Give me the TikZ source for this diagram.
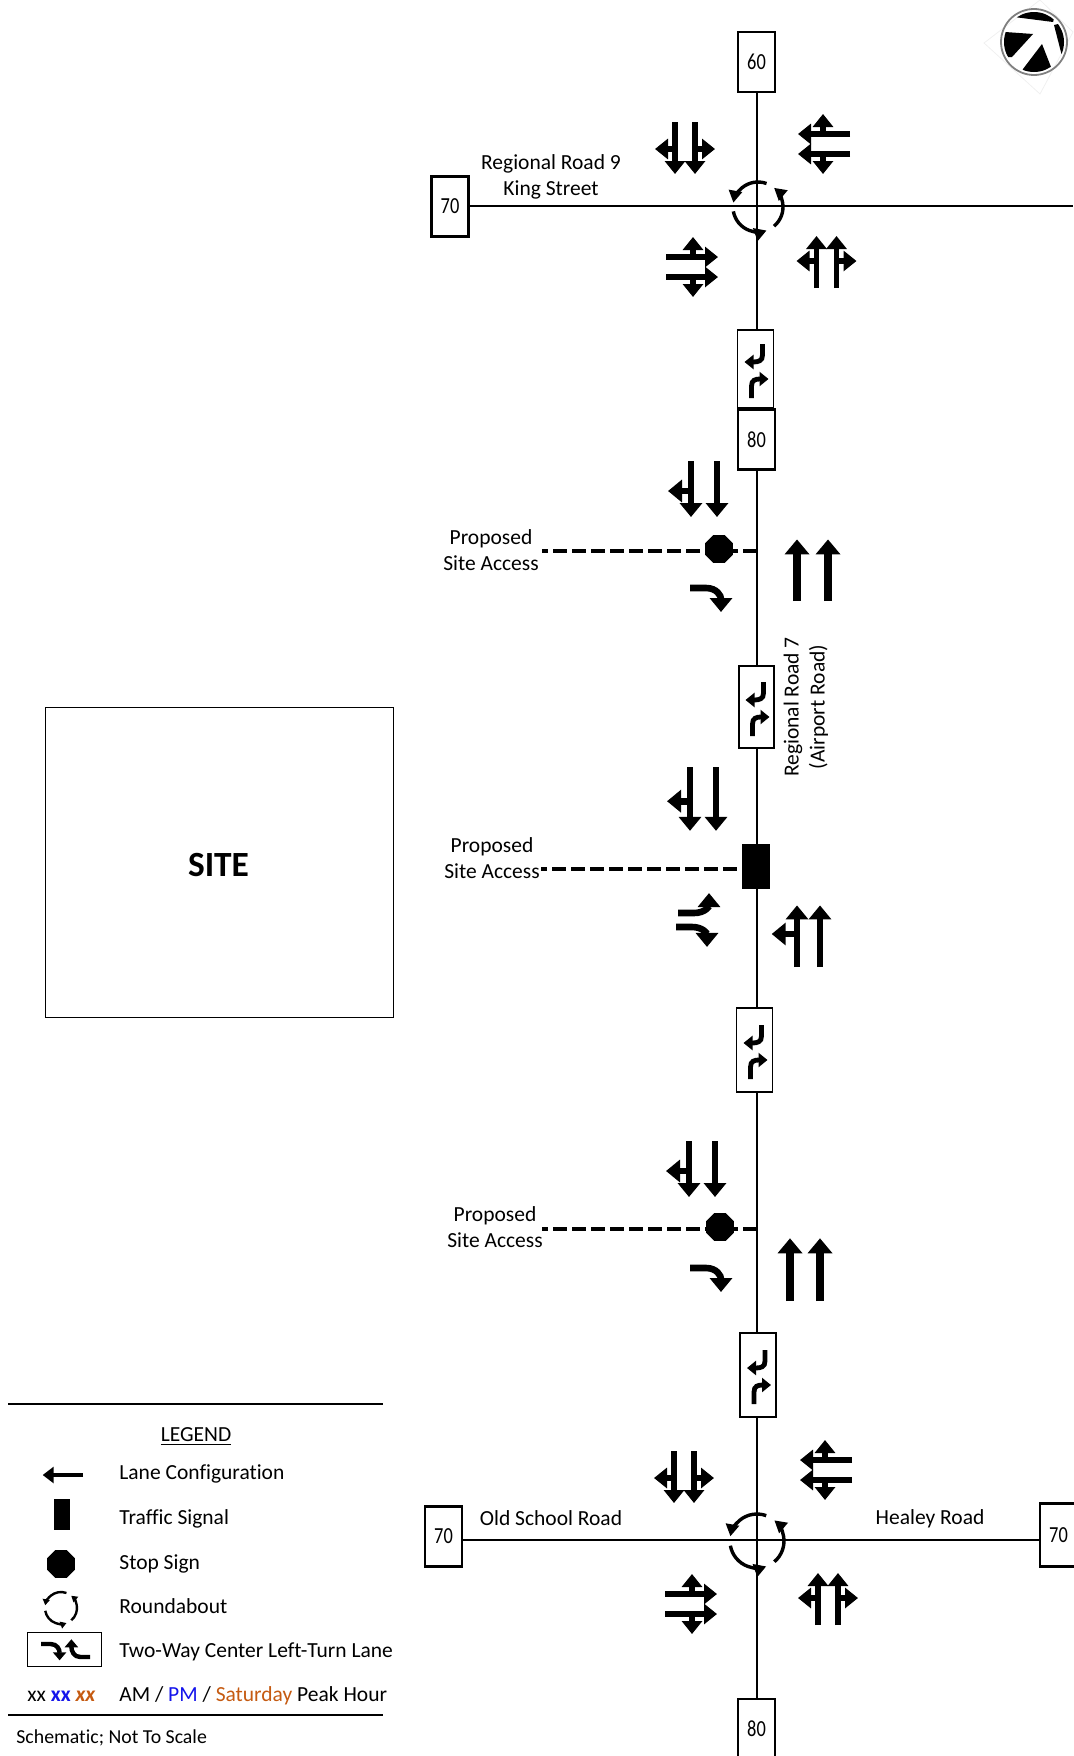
\documentclass[tikz,border=0pt]{standalone}
\usepackage{fontspec}
\setmainfont{Carlito}[Ligatures=CommonOff]
\usepackage{xcolor}
\usetikzlibrary{arrows.meta,shapes.geometric,backgrounds}
\definecolor{pmblue}{RGB}{20,20,235}
\definecolor{satorange}{RGB}{197,90,17}
\newcommand{\boxnum}[1]{\scalebox{.8}[1]{#1}}

\begin{document}
\begin{tikzpicture}[x=0.5pt,y=-0.5pt,font=\fontsize{10.75}{13}\selectfont,>={Triangle[length=6.5pt,width=10pt]}]
  \tikzstyle{road}=[line width=1pt]
  \tikzstyle{accessline}=[line width=2pt,dash pattern=on 7pt off 2.5pt,dash phase=4pt]
  \tikzstyle{numbox}=[draw,line width=1.1pt,fill=white,minimum width=18.5pt,minimum height=30pt,inner sep=0pt,font=\fontsize{11.5}{13}\selectfont]
  \tikzstyle{twbox}=[draw,line width=.75pt,fill=white,minimum width=18pt,minimum height=41pt,inner sep=0pt]
  \tikzstyle{stopsign}=[regular polygon,regular polygon sides=8,fill=black,minimum size=15pt,inner sep=0pt]
  \tikzstyle{signal}=[fill=black,minimum width=14pt,minimum height=22.5pt,inner sep=0pt]
  \tikzstyle{lbl}=[inner sep=0pt,align=center]
  \tikzstyle{item}=[inner sep=0pt,anchor=west]
  \tikzstyle{lane}=[->]
  \tikzstyle{stdhead}=[line width=2.9pt]
  \tikzstyle{bighead}=[line width=3.6pt,>={Triangle[length=7.5pt,width=12pt]}]
  \tikzstyle{midhead}=[line width=3.3pt,>={Triangle[length=7pt,width=11pt]}]
  \tikzstyle{twhead}=[line width=2.4pt,>={Triangle[length=4.5pt,width=7pt]}]
  \tikzstyle{ringhead}=[line width=1.7pt,>={Triangle[length=6pt,width=6.5pt]}]
  \tikzset{
    thru/.pic={\draw[lane] (0,0) -- (0,-56);},
    thruright/.pic={\draw[lane] (0,0) -- (0,-56); \draw[lane] (0,-30) -- (23,-30);},
    dualway/.pic={
      \draw[lane] (-10,27) -- (-10,-25); \draw[lane] (10,27) -- (10,-25);
      \draw[lane] (-10,0) -- (-30,0); \draw[lane] (10,0) -- (30,0);},
    turnright/.pic={\draw[lane] (0,0) -- (16,0) .. controls (27,0) and (31,8) .. (31,24);},
    twglyph/.pic={
      \draw[lane] (7,-25) -- (7,-14) .. controls (7,-8) and (3,-7) .. (-11,-7);
      \draw[lane] (-4,29) -- (-4,17) .. controls (-4,11) and (0,10) .. (13,10);},
    ringabout/.pic={
      \foreach \a in {70,190,310}
        \draw[lane] (-\a:25) arc[start angle=-\a,delta angle=-100,radius=25];}
  }
  \useasboundingbox (0,0) rectangle (1073,1756);
  % Road boxes
  \node[numbox] (b60) at (756.5,62) {\boxnum{60}};
  \node[twbox,minimum height=39pt] (tw1) at (755.5,369) {};
  \node[numbox] (b80n) at (756.5,439.5) {\boxnum{80}};
  \node[twbox,minimum width=17.5pt] (tw2) at (756.5,707) {};
  \node[twbox,minimum height=42pt] (tw3) at (754.5,1050) {};
  \node[twbox,minimum height=42pt] (tw4) at (758,1375) {};
  \node[numbox] (b80s) at (756.5,1729) {\boxnum{80}};
  \node[numbox] (b70w) at (450,206.5) {\boxnum{70}};
  \node[numbox,line width=1.3pt] (b70s) at (443.5,1536.5) {\boxnum{70}};
  \node[numbox,minimum height=31.5pt] (b70e) at (1058.5,1535) {\boxnum{70}};
  \coordinate (ring1) at (756.5,206);
  \coordinate (ring2) at (756.5,1540);
  \coordinate (east1) at (1073,206);
  \node[stopsign] (stop1) at (719,549) {};
  \node[signal] (sig2) at (756,866.5) {};
  \node[stopsign] (stop3) at (720,1227) {};
  \coordinate (acc1w) at (542,551);
  \coordinate (acc1e) at (758,551);
  \coordinate (acc2w) at (541,869);
  \coordinate (acc3w) at (542,1229);
  \coordinate (acc3e) at (758,1229);
  \begin{pgfonlayer}{background}
    \draw[road] (b60) -- (b80s);
    \draw[road] (b70w |- ring1) -- (east1);
    \draw[road] (b70s |- ring2) -- (b70e |- ring2);
    \draw[accessline] (acc1w) -- (acc1e);
    \draw[accessline] (acc2w) -- (sig2.west |- acc2w);
    \draw[accessline] (acc3w) -- (acc3e);
  \end{pgfonlayer}
  % Left-turn lane glyphs
  \pic[twhead] at (tw1) {twglyph};
  \pic[twhead] at (tw2) {twglyph};
  \pic[twhead] at (tw3) {twglyph};
  \pic[twhead] at (tw4) {twglyph};
  % Regional Road 9 intersection
  \pic[ringhead] at (758,207) {ringabout};
  \pic[rotate=180,stdhead] at (685,149) {dualway};
  \pic[rotate=90,stdhead] at (823,144) {dualway};
  \pic[stdhead] at (826.5,261) {dualway};
  \pic[rotate=-90,stdhead] at (693,267) {dualway};
  % First access
  \pic[rotate=180,midhead] at (691,461) {thruright};
  \pic[rotate=180,midhead] at (717,461) {thru};
  \pic[yscale=1.1,bighead] at (797,601) {thru};
  \pic[yscale=1.1,bighead] at (828,601) {thru};
  \pic[midhead] at (690,588) {turnright};
  % Second access
  \pic[rotate=180,yscale=1.14,midhead] at (690,767) {thruright};
  \pic[rotate=180,yscale=1.14,midhead] at (716,767) {thru};
  \pic[xscale=-1.1,yscale=1.1,midhead] at (797,967) {thruright};
  \pic[yscale=1.1,midhead] at (820,967) {thru};
  \pic[yscale=-.83,midhead] at (678,913) {turnright};
  \pic[yscale=.83,midhead] at (676,927) {turnright};
  % Third access
  \pic[rotate=180,midhead] at (689,1141) {thruright};
  \pic[rotate=180,midhead] at (715,1141) {thru};
  \pic[yscale=1.12,bighead] at (790,1301) {thru};
  \pic[yscale=1.12,bighead] at (820,1301) {thru};
  \pic[midhead] at (690,1268) {turnright};
  % Old School Road intersection
  \pic[scale=1.08,ringhead] at (757,1541) {ringabout};
  \pic[rotate=180,stdhead] at (684,1478) {dualway};
  \pic[rotate=90,stdhead] at (825,1470) {dualway};
  \pic[stdhead] at (828,1598) {dualway};
  \pic[rotate=-90,stdhead] at (692,1604) {dualway};
  % Road names
  \node[lbl] (rr9) at (551,176.5) {Regional Road 9\\King Street};
  \node[lbl] (osr) at (551,1518) {Old School Road};
  \node[lbl] (hlr) at (930,1519) {Healey Road};
  \node[lbl,rotate=90] (rr7) at (806,707) {Regional Road 7\\(Airport Road)};
  \node[lbl] (pa1) at (491,550) {Proposed\\Site Access};
  \node[lbl] (pa2) at (492,858) {Proposed\\Site Access};
  \node[lbl] (pa3) at (495,1227) {Proposed\\Site Access};
  % Site
  \node[draw,line width=.5pt,minimum width=174pt,minimum height=155pt,inner sep=0pt] (site) at (219,862) {};
  \node[lbl,font=\fontsize{17.7}{20}\selectfont\bfseries] (sitetxt) at (218.5,865) {SITE};
  % North arrow
  \coordinate (north) at (1034,42);
  \draw[black!6,line width=.4pt] (984,43) -- (1040,0) -- (1073,32) -- (1040,94) -- cycle;
  \begin{scope}
    \clip (north) circle[radius=30];
    \fill (1014,17) -- (1053,22) -- (1060,0) -- (1010,0) -- cycle;
    \fill (1054,25) -- (1063,60) -- (1075,60) -- (1075,20) -- cycle;
    \fill (1005,32) -- (1033,34) -- (1012,57) -- (995,57) -- (995,32) -- cycle;
    \fill (1042,44) -- (1051,67) -- (1055,80) -- (1020,80) -- (1023,69) -- cycle;
  \end{scope}
  \draw[black!50,line width=.9pt] (north) circle[radius=33];
  % Legend
  \coordinate (legtl) at (8,1404);
  \coordinate (legtr) at (383,1404);
  \coordinate (legbl) at (8,1715);
  \coordinate (legbr) at (383,1715);
  \draw[road] (legtl) -- (legtr);
  \draw[road] (legbl) -- (legbr);
  \node[lbl] (legend) at (196,1437) {\underline{LEGEND}};
  \pic[rotate=90,yscale=.72,line width=2.4pt,>={Triangle[length=5.5pt,width=8pt]}] at (83,1475) {thru};
  \node[item] (lg1) at (119,1473.5) {Lane Configuration};
  \node[signal,minimum width=8pt,minimum height=15.5pt] (lgsig) at (62,1514.5) {};
  \node[item] (lg2) at (119,1518.5) {Traffic Signal};
  \node[stopsign] (lgstop) at (61,1564) {};
  \node[item] (lg3) at (119,1563.5) {Stop Sign};
  \pic[scale=.64,line width=1.2pt,>={Triangle[length=3pt,width=3.5pt]}] at (61,1608) {ringabout};
  \node[item] (lg4) at (119,1606) {Roundabout};
  \node[draw,line width=.75pt,minimum width=37pt,minimum height=17pt,inner sep=0pt] (lgtw) at (64.5,1649.5) {};
  \pic[xscale=.6,yscale=.68,line width=2.2pt,>={Triangle[length=4pt,width=6.5pt]}] at (41,1644) {turnright};
  \pic[rotate=180,xscale=.6,yscale=.74,line width=2.2pt,>={Triangle[length=4pt,width=6.5pt]}] at (90,1657) {turnright};
  \node[item] (lg5) at (119,1651.5) {Two-Way Center Left-Turn Lane};
  \node[item] (lgxx) at (27,1696) {xx \textcolor{pmblue}{\textbf{xx}} \textcolor{satorange}{\bfseries\itshape xx}};
  \node[item] (lg6) at (119,1696) {AM / \textcolor{pmblue}{PM} / \textcolor{satorange}{Saturday} Peak Hour};
  \node[item] (note) at (16,1738) {\fontsize{9.9}{12}\selectfont Schematic; Not To Scale};
\end{tikzpicture}
\end{document}
